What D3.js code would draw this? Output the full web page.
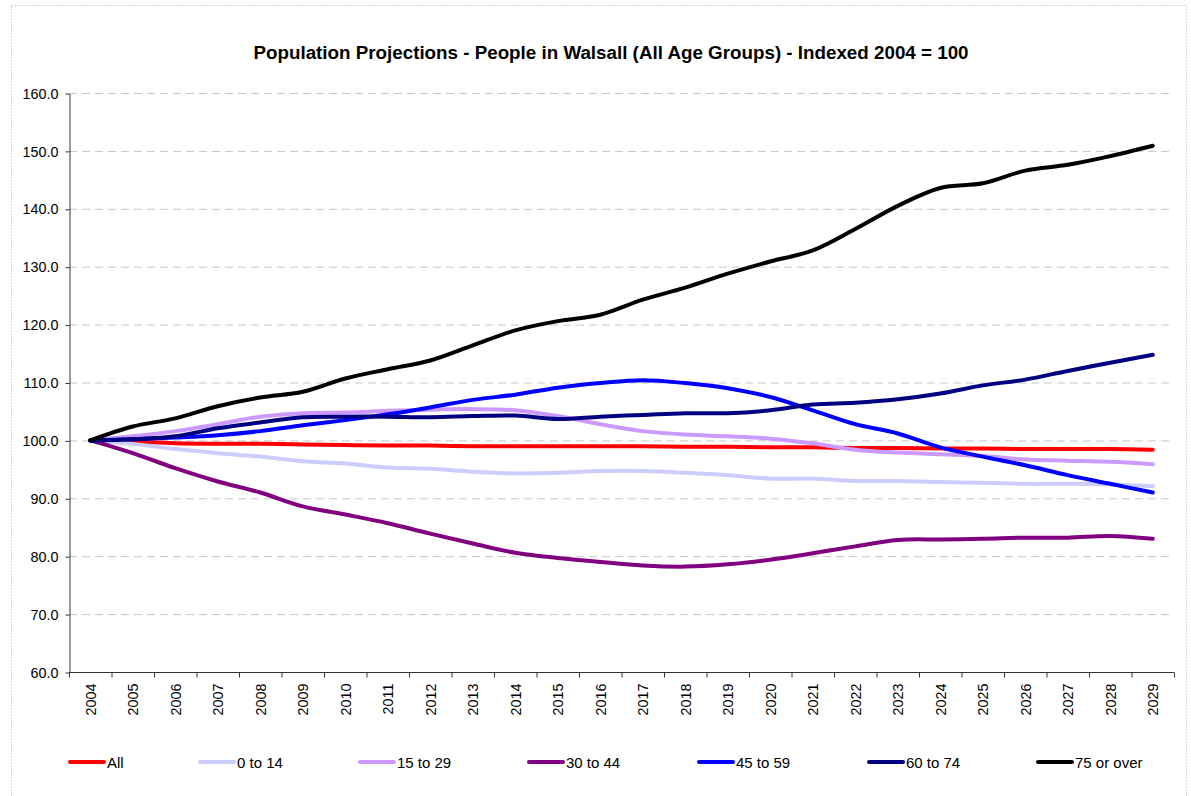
<!DOCTYPE html>
<html>
<head>
<meta charset="utf-8">
<script src="https://cdn.jsdelivr.net/npm/d3@7"></script>
<style>
  body { margin: 0; background: #fff; }
  svg { font-family: "Liberation Sans", Arial, sans-serif; }
</style>
</head>
<body>
<div id="container"></div>
<script>
// values
const years = ["2004","2005","2006","2007","2008","2009","2010","2011","2012","2013","2014","2015","2016",
               "2017","2018","2019","2020","2021","2022","2023","2024","2025","2026","2027","2028","2029"];
const seriesNames = ["All", "0 to 14", "15 to 29", "30 to 44", "45 to 59", "60 to 74", "75 or over"];
const seriesColors = ["#FF0000", "#CCCCFF", "#CC99FF", "#800080", "#0000FF", "#000080", "#000000"];

const all      = [100,99.8,99.5,99.4,99.4,99.3,99.2,99.1,99.1,99.0,99.0,99.0,99.0,99.0,98.9,98.9,98.8,98.8,98.7,98.7,98.6,98.6,98.5,98.5,98.5,98.4];
const age0_14  = [100,99.4,98.5,97.8,97.2,96.4,96.0,95.3,95.1,94.6,94.3,94.4,94.7,94.7,94.4,94.0,93.4,93.4,93.0,93.0,92.8,92.7,92.5,92.5,92.4,92.1];
const age15_29 = [100,100.7,101.6,102.8,104.1,104.7,104.8,105.1,105.3,105.4,105.2,104.2,102.8,101.6,101.0,100.7,100.3,99.5,98.4,97.9,97.6,97.3,96.7,96.5,96.3,95.9];
const age30_44 = [100,97.8,95.2,92.9,91.0,88.6,87.2,85.7,83.9,82.2,80.6,79.7,79.0,78.4,78.2,78.6,79.4,80.5,81.7,82.8,82.9,83.0,83.2,83.2,83.5,83.0];
const age45_59 = [100,100.2,100.5,100.9,101.6,102.6,103.5,104.5,105.7,107.0,107.9,109.1,109.9,110.4,109.9,109.0,107.5,105.2,102.8,101.2,98.8,97.2,95.7,94.0,92.5,91.0];
const age60_74 = [100,100.2,100.7,102.1,103.1,104.0,104.1,104.1,104.0,104.2,104.3,103.7,104.1,104.4,104.7,104.7,105.2,106.2,106.5,107.1,108.1,109.5,110.5,112.0,113.4,114.8];
const age75    = [100,102.4,103.8,105.9,107.4,108.4,110.7,112.3,113.8,116.4,119.0,120.6,121.7,124.3,126.4,128.8,130.9,132.8,136.5,140.5,143.6,144.4,146.6,147.6,149.1,150.9];
const yTicks = [60,70,80,90,100,110,120,130,140,150,160];

const seriesValues = [all, age0_14, age15_29, age30_44, age45_59, age60_74, age75];

const width = 1191, height = 796;
const plotLeft = 69, plotRight = 1174, plotTop = 93, plotBottom = 672;

let svg = d3.select("#container").append("svg")
    .attr("width", width)
    .attr("height", height)

// dotted chart-area border
svg.append("rect")
    .attr("x", 11.5).attr("y", 5.5)
    .attr("width", 1175).attr("height", 800)
    .attr("fill", "none")
    .attr("stroke", "#b0b0b0")
    .attr("stroke-dasharray", "1,2")

svg.append("text")
    .attr("x", 611).attr("y", 59)
    .attr("text-anchor", "middle")
    .style("font-size", "18.8px")
    .style("font-weight", "bold")
    .text("Population Projections - People in Walsall (All Age Groups) - Indexed 2004 = 100")

let xScale = d3.scaleBand().domain(years).range([plotLeft, plotRight])
let yScale = d3.scaleLinear().domain([60, 160]).range([plotBottom, plotTop])

// gridlines
svg.append("g")
    .selectAll("line")
    .data(yTicks.filter(t => t > 60))
    .enter().append("line")
    .attr("x1", plotLeft).attr("x2", plotRight)
    .attr("y1", d => yScale(d) + 0.5).attr("y2", d => yScale(d) + 0.5)
    .attr("stroke", "#c8c8c8")
    .attr("stroke-dasharray", "8,5")

const yAxis = svg.append("g")
    .attr("transform", "translate(" + (plotLeft + 0.5) + ",0.5)")
    .call(d3.axisLeft(yScale).tickValues(yTicks).tickFormat(d3.format(".1f")).tickSize(4).tickSizeOuter(0))
yAxis.selectAll("text")
    .style("font-size", "14.4px")
    .style("font-family", "'Liberation Sans', Arial, sans-serif")
    .attr("fill", "#000").attr("x", -11)
yAxis.selectAll("line,path").attr("stroke", "#333")

// category boundary ticks on the x axis
const xAxis = svg.append("g")
    .attr("transform", "translate(0," + (plotBottom + 0.5) + ")")
xAxis.append("line")
    .attr("x1", plotLeft).attr("x2", plotRight)
    .attr("stroke", "#333")
xAxis.selectAll("line.tick")
    .data(years.concat(["end"]))
    .enter().append("line")
    .attr("class", "tick")
    .attr("x1", (d, i) => plotLeft + i * xScale.step() + 0.5)
    .attr("x2", (d, i) => plotLeft + i * xScale.step() + 0.5)
    .attr("y1", 0).attr("y2", 5)
    .attr("stroke", "#333")
xAxis.selectAll("text")
    .data(years)
    .enter().append("text")
    .attr("transform", d => "translate(" + (xScale(d) + xScale.bandwidth() / 2 + 5.5) + ",11) rotate(-90)")
    .attr("text-anchor", "end")
    .style("font-size", "14.4px")
    .text(d => d)

const line = d3.line()
    .x((d, i) => xScale(years[i]) + xScale.bandwidth() / 2)
    .y(d => yScale(d))
    .curve(d3.curveCatmullRom.alpha(0.5))

svg.append("g")
    .selectAll("path")
    .data(seriesValues)
    .enter().append("path")
    .attr("d", line)
    .attr("fill", "none")
    .attr("stroke", (d, i) => seriesColors[i])
    .attr("stroke-width", 4)
    .attr("stroke-linecap", "round")
    .attr("stroke-linejoin", "round")

// legend
const legendX = [68, 198, 358, 527, 697, 867, 1036];
const legend = svg.append("g")
    .selectAll("g")
    .data(seriesNames)
    .enter().append("g")
    .attr("transform", (d, i) => "translate(" + legendX[i] + ",762)")
legend.append("line")
    .attr("x1", 2).attr("x2", 36)
    .attr("stroke", (d, i) => seriesColors[i])
    .attr("stroke-width", 4)
    .attr("stroke-linecap", "round")
legend.append("text")
    .attr("x", 39).attr("y", 6)
    .style("font-size", "15px")
    .text(d => d)
</script>
</body>
</html>
